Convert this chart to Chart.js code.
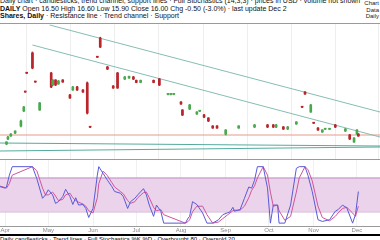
<!DOCTYPE html>
<html>
<head>
<meta charset="utf-8">
<script src="https://cdn.jsdelivr.net/npm/chart.js@4"></script>
<style>
  html, body { margin: 0; padding: 0; background: #fff; }
  body { width: 380px; height: 240px; position: relative; overflow: hidden; font-family: "Liberation Sans", Arial, sans-serif; }
  #hdr { position: absolute; left: 0; top: -3px; width: 380px; height: 26px; overflow: hidden; font-size: 7px; line-height: 7.5px; color: #111; white-space: nowrap; }
  #hdr b { font-weight: bold; }
  #logo { position: absolute; right: 1px; top: 3px; font-size: 6px; line-height: 6.5px; text-align: right; color: #222; }
  .sep { position: absolute; left: 0; width: 380px; height: 1px; background: #9a9a9a; }
  #priceBox { position: absolute; left: 0; top: 24px; width: 380px; height: 135px; }
  #stochBox { position: absolute; left: 0; top: 160px; width: 380px; height: 74px; }
  #ftr { position: absolute; left: 0; top: 234px; width: 380px; height: 6px; border-top: 2px solid #000; font-size: 6px; line-height: 6px; color: #000; white-space: nowrap; overflow: hidden; }
</style>
</head>
<body>
<div id="hdr">
  <div>Daily chart &middot; candlesticks, trend channel, support lines &middot; Full Stochastics (14,3,3) &middot; prices in USD &middot; volume not shown</div>
  <div><b>DAILY</b> Open 16.50 High 16.60 Low 15.90 Close 16.00 Chg -0.50 (-3.0%) &middot; last update Dec 2</div>
  <div><b>Shares, Daily</b> &middot; Resistance line &middot; Trend channel &middot; Support</div>
  <div id="logo">Chart<br>Data<br>Daily</div>
</div>
<div class="sep" style="top:23px"></div>
<div id="priceBox"><canvas id="price"></canvas></div>
<div class="sep" style="top:159px"></div>
<div id="stochBox"><canvas id="stoch"></canvas></div>
<div id="ftr">Daily candlesticks &middot; Trend lines &middot; Full Stochastics %K %D &middot; Overbought 80 &middot; Oversold 20</div>

<script>
// candles (2023, month-day)
const candleDates = ['04-02','04-03','04-05','04-08','04-12','04-14','04-15','04-16','04-20','04-22','04-25',
  '05-03','05-04','05-06','05-08','05-11','05-16','05-18','05-21','05-25','05-28','05-30',
  '06-04','06-06','06-11','06-15','06-18','06-23','06-26','06-29',
  '07-01','07-04','07-13','07-17','07-23','07-25','07-27',
  '08-01','08-02','08-07','08-12','08-14','08-17','08-20','08-23','08-26',
  '09-01','09-10','09-21','09-30',
  '10-04','10-06','10-11','10-14','10-20','10-24','10-26','10-30',
  '11-01','11-04','11-07','11-09','11-12','11-16','11-23','11-26','11-29',
  '12-01','12-02'];
const candleOpen  = [14.0,15.25,16.0,16.75,18.5,22.25,27.1,31.8,36.75,29.6,22.5,
  31.75,28.75,30.0,29.0,30.0,26.25,27.5,28.25,27.5,29.25,18.3,
  35.8,40.5,33.25,28.5,31.75,30.25,30.5,30.75,
  29.9,29.4,29.9,30.25,26.4,26.4,26.4,
  24.5,22.5,22.75,21.5,22.2,21.25,20.5,18.5,18.5,
  16.5,18.0,18.25,18.75,
  18.75,18.25,18.25,17.75,19.0,23.3,27.0,22.0,
  19.3,18.0,17.0,17.7,17.7,18.75,17.25,16.25,14.5,
  16.5,16.5];
const candleHigh  = [14.6,15.9,16.6,17.3,20.0,23.4,27.2,31.9,37.0,29.7,24.4,
  31.9,30.1,30.1,29.9,30.1,26.4,28.4,28.4,27.6,29.5,18.4,
  35.9,40.7,33.4,28.6,31.9,30.9,31.0,30.9,
  30.0,30.0,30.0,30.4,26.6,26.6,26.6,
  24.6,22.6,23.9,22.1,22.4,21.4,20.6,18.6,18.6,
  17.6,18.6,18.9,18.9,
  18.9,18.9,18.4,18.4,19.6,23.4,27.1,23.9,
  19.4,18.1,17.6,17.9,17.9,18.9,17.9,16.4,15.6,
  17.6,16.6];
const candleLow   = [13.8,15.1,15.9,16.6,18.3,22.1,26.9,31.6,32.8,29.4,22.4,
  28.1,28.6,28.6,28.9,29.4,25.4,27.4,27.4,26.9,21.5,18.1,
  35.6,38.1,32.6,27.9,27.9,30.1,30.4,30.1,
  29.3,29.3,29.3,28.6,26.3,26.3,26.3,
  23.9,21.1,22.6,21.4,22.1,20.6,19.6,17.9,17.9,
  16.25,17.9,18.1,18.1,
  18.1,18.1,17.6,17.6,18.9,23.1,26.4,21.9,
  19.1,17.4,16.9,17.6,17.6,18.1,17.1,15.1,14.4,
  16.4,15.9];
const candleClose = [14.5,15.75,16.5,17.25,19.75,23.25,27.0,31.7,33.0,29.5,24.25,
  28.25,30.0,28.75,29.75,29.5,25.5,28.25,27.5,27.0,21.75,18.2,
  35.7,38.25,32.75,28.0,28.0,30.75,30.9,30.25,
  29.4,29.9,29.4,28.75,26.5,26.5,26.5,
  24.0,21.25,23.75,22.0,22.3,20.75,19.75,18.0,18.0,
  17.5,18.5,18.75,18.25,
  18.25,18.75,17.75,18.25,19.5,23.2,26.5,23.75,
  19.2,17.5,17.5,17.8,17.8,18.25,17.75,15.25,15.5,
  17.5,16.0];

// drawn lines: [start, end]
const lineDates = ['03-28','12-17'];
const upperTrendDates = ['05-02','12-17'];
const upperTrend = [43.75, 22.0];
const lowerTrendDates = ['04-20','12-17'];
const lowerTrend = [38.75, 15.75];
const resistanceLine = [16.25, 16.25];
const channelLineA = [14.25, 13.5];
const channelLineB = [12.25, 13.25];

// full stochastics
const stochDates = ['03-28','04-01','04-02','04-04','04-06','04-20','04-23','04-27','04-29',
  '05-01','05-04','05-06','05-08','05-11','05-13','05-16','05-18','05-20','05-22','05-25','05-27','05-29',
  '06-01','06-04','06-05','06-08','06-11','06-14','06-16','06-20','06-22','06-25','06-27','06-30',
  '07-02','07-06','07-08','07-10','07-13','07-15','07-18','07-20',
  '08-04','08-06','08-07','08-09','08-12','08-16','08-19','08-23','08-27','08-30',
  '09-02','09-04','09-06','09-07','09-11','09-14','09-17','09-19','09-21','09-23','09-27','09-30',
  '10-02','10-04','10-07','10-08','10-12','10-16','10-20','10-22','10-26','10-28','10-31',
  '11-04','11-07','11-12','11-16','11-18','11-21','11-24','11-28','11-30','12-02'];
const stochK = [65,62,64,85,100,100,79,44,50,
  59,50,35,38,47,60,47,33,45,32,33,26,10,
  26,85,100,88,76,65,56,53,47,26,38,44,
  50,61,50,32,12,32,21,0,
  0,9,12,38,33,18,0,0,6,15,
  18,20,28,21,24,44,64,62,76,100,100,62,
  0,32,32,0,0,32,97,100,100,85,56,
  6,3,6,21,24,32,27,0,15,56];
const stochD = [66,63,62,70,85,100,93,62,50,
  50,55,48,40,42,50,53,45,40,37,34,30,22,
  18,45,70,92,84,72,64,56,52,40,35,38,
  45,54,55,45,28,22,24,15,
  0,3,6,20,30,30,15,0,2,8,
  14,18,22,23,23,30,45,58,66,80,100,85,
  55,30,32,22,5,12,55,80,100,95,75,
  30,10,4,12,18,26,28,18,12,30];
const bandTop = 80, bandBottom = 20;

const monthStarts = ['04-01','05-01','06-01','07-01','08-01','09-01','10-01','11-01','12-01'];
const monthLabels = ['Apr','May','Jun','Jul','Aug','Sep','Oct','Nov','Dec'];

const base = Date.UTC(2023, 3, 1);
function day(md) {
  const p = md.split('-');
  return (Date.UTC(2023, +p[0] - 1, +p[1]) - base) / 864e5;
}
const xMin = -3.5, xMax = 260;
const monthTicks = monthStarts.map(d => ({ value: day(d) }));

function pts(dates, vals) { return dates.map((d, i) => ({ x: day(d), y: vals[i] })); }

Chart.defaults.animation = false;
Chart.defaults.font.family = 'Liberation Sans, Arial, sans-serif';

const up = '#4aa84f', down = '#b8262c';
const candleCol = candleOpen.map((o, i) => candleClose[i] >= o ? up : down);

function trend(data, color) {
  return { type: 'line', data: data, borderColor: color, borderWidth: 1, pointRadius: 0, fill: false, order: 5 };
}

new Chart(document.getElementById('price'), {
  type: 'bar',
  data: {
    datasets: [
      {
        data: candleDates.map((d, i) => ({ x: day(d), y: [candleLow[i], candleHigh[i]] })),
        backgroundColor: candleCol, barThickness: 1, grouped: false, order: 2
      },
      {
        data: candleDates.map((d, i) => ({ x: day(d), y: [candleOpen[i], candleClose[i]] })),
        backgroundColor: candleCol, barThickness: 2, minBarLength: 1, grouped: false, order: 1
      },
      trend(pts(upperTrendDates, upperTrend), '#86bdb3'),
      trend(pts(lowerTrendDates, lowerTrend), '#86bdb3'),
      trend(pts(lineDates, resistanceLine), '#e29a8c'),
      trend(pts(lineDates, channelLineA), '#55ab9e'),
      trend(pts(lineDates, channelLineB), '#55ab9e')
    ]
  },
  options: {
    responsive: true, maintainAspectRatio: false,
    layout: { padding: 0 },
    plugins: { legend: { display: false }, tooltip: { enabled: false } },
    scales: {
      x: {
        type: 'linear', min: xMin, max: xMax, offset: false,
        afterBuildTicks: s => { s.ticks = monthTicks.slice(); },
        ticks: { display: false },
        grid: { color: '#eeeeee', drawTicks: false },
        border: { display: false }
      },
      y: { display: false, min: 10.25, max: 44 }
    }
  }
});

new Chart(document.getElementById('stoch'), {
  type: 'line',
  data: {
    datasets: [
      { data: [{ x: xMin, y: bandTop }, { x: xMax, y: bandTop }], borderColor: '#b88cc0', borderWidth: 1,
        backgroundColor: '#ebd3ec', fill: '+1', pointRadius: 0, order: 5 },
      { data: [{ x: xMin, y: bandBottom }, { x: xMax, y: bandBottom }], borderColor: '#b88cc0', borderWidth: 1,
        fill: false, pointRadius: 0, order: 5 },
      { data: pts(stochDates, stochD), borderColor: '#d0559c', borderWidth: 1, pointRadius: 0, tension: 0, fill: false, order: 2 },
      { data: pts(stochDates, stochK), borderColor: '#5a5ad8', borderWidth: 1, pointRadius: 0, tension: 0, fill: false, order: 1 }
    ]
  },
  options: {
    responsive: true, maintainAspectRatio: false,
    layout: { padding: 0 },
    plugins: { legend: { display: false }, tooltip: { enabled: false } },
    scales: {
      x: {
        type: 'linear', min: xMin, max: xMax,
        afterBuildTicks: s => { s.ticks = monthTicks.slice(); },
        ticks: {
          font: { size: 6 }, color: '#8a8a8a', padding: 0, maxRotation: 0, autoSkip: false,
          callback: (v) => monthLabels[monthTicks.findIndex(t => t.value === v)]
        },
        grid: { color: '#f1f1f1', drawTicks: false },
        border: { display: true, color: '#9a9a9a' }
      },
      y: { display: false, min: -6.5, max: 111.8 }
    }
  }
});
</script>
</body>
</html>
